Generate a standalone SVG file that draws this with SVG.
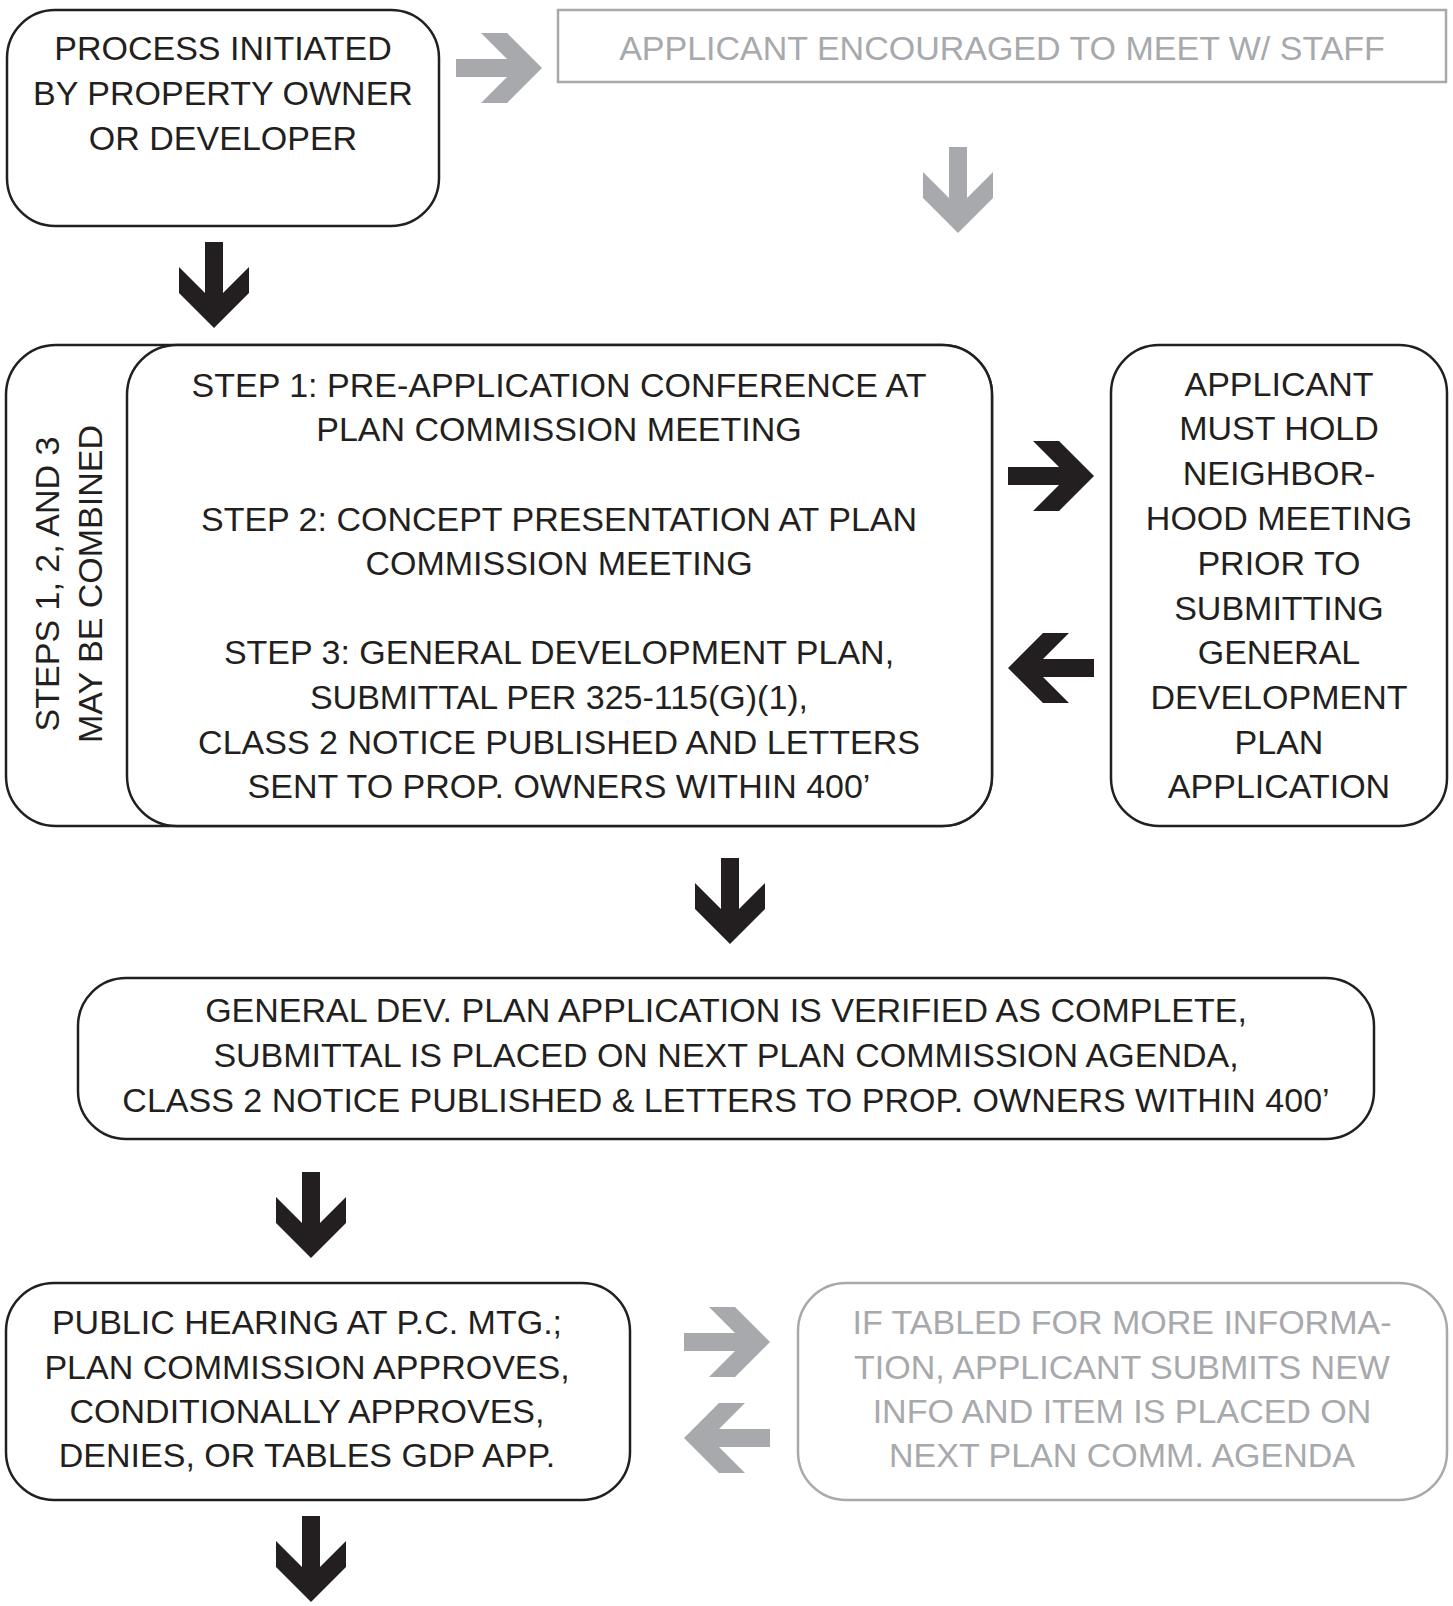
<svg xmlns="http://www.w3.org/2000/svg" xmlns:xlink="http://www.w3.org/1999/xlink" width="1453" height="1606" viewBox="0 0 1453 1606">
<style>
.box{fill:#fff;stroke:#231f20;stroke-width:2.5}
.gbox{fill:#fff;stroke:#a7a9ac;stroke-width:2.5}
.t{font-family:"Liberation Sans",Arial,sans-serif;font-size:34px;fill:#231f20;text-anchor:middle}
.g{fill:#a7a9ac}
.ab{fill:#231f20}
.ag{fill:#a7a9ac}
</style>
<defs>
<path id="down" d="M-9,0 H9 V51 L35,25 V51 L0,86 L-35,51 V25 L-9,51 Z"/>
<path id="right" d="M0,9 V-9 H51 L25,-35 H51 L86,0 L51,35 H25 L51,9 Z"/>
<path id="left" d="M86,9 V-9 H35 L61,-35 H35 L0,0 L35,35 H61 L35,9 Z"/>
</defs>
<rect width="1453" height="1606" fill="#fff"/>

<g id="connectors">
<use href="#right" class="ag" transform="translate(456,68)"/>
<use href="#down" class="ag" transform="translate(958,147)"/>
<use href="#down" class="ab" transform="translate(214,242)"/>
<use href="#right" class="ab" transform="translate(1008,476)"/>
<use href="#left" class="ab" transform="translate(1008,668)"/>
<use href="#down" class="ab" transform="translate(730,858)"/>
<use href="#down" class="ab" transform="translate(311,1172)"/>
<use href="#right" class="ag" transform="translate(684,1342)"/>
<use href="#left" class="ag" transform="translate(684,1438)"/>
<use href="#down" class="ab" transform="translate(311,1516)"/>
</g>

<g id="node-initiated">
<rect class="box" x="7" y="10" width="432" height="216" rx="48"/>
<text class="t" x="223" y="60">PROCESS INITIATED</text>
<text class="t" x="223" y="105">BY PROPERTY OWNER</text>
<text class="t" x="223" y="150">OR DEVELOPER</text>
</g>

<g id="node-meet-staff">
<rect class="gbox" x="558" y="10" width="888" height="72"/>
<text class="t g" x="1002" y="60">APPLICANT ENCOURAGED TO MEET W/ STAFF</text>
</g>

<g id="node-combined">
<rect class="box" x="6" y="345" width="986" height="481" rx="50"/>
<text class="t" transform="translate(59,584) rotate(-90)">STEPS 1, 2, AND 3</text>
<text class="t" transform="translate(102,584) rotate(-90)">MAY BE COMBINED</text>
</g>

<g id="node-steps">
<rect class="box" x="127" y="345" width="865" height="481" rx="50"/>
<text class="t" x="559" y="397">STEP 1: PRE-APPLICATION CONFERENCE AT</text>
<text class="t" x="559" y="441">PLAN COMMISSION MEETING</text>
<text class="t" x="559" y="531">STEP 2: CONCEPT PRESENTATION AT PLAN</text>
<text class="t" x="559" y="575">COMMISSION MEETING</text>
<text class="t" x="559" y="664">STEP 3: GENERAL DEVELOPMENT PLAN,</text>
<text class="t" x="559" y="709">SUBMITTAL PER 325-115(G)(1),</text>
<text class="t" x="559" y="754">CLASS 2 NOTICE PUBLISHED AND LETTERS</text>
<text class="t" x="559" y="798">SENT TO PROP. OWNERS WITHIN 400’</text>
</g>

<g id="node-neighborhood">
<rect class="box" x="1111" y="345" width="336" height="481" rx="48"/>
<text class="t" x="1279" y="396">APPLICANT</text>
<text class="t" x="1279" y="440">MUST HOLD</text>
<text class="t" x="1279" y="485">NEIGHBOR-</text>
<text class="t" x="1279" y="530">HOOD MEETING</text>
<text class="t" x="1279" y="575">PRIOR TO</text>
<text class="t" x="1279" y="620">SUBMITTING</text>
<text class="t" x="1279" y="664">GENERAL</text>
<text class="t" x="1279" y="709">DEVELOPMENT</text>
<text class="t" x="1279" y="754">PLAN</text>
<text class="t" x="1279" y="798">APPLICATION</text>
</g>

<g id="node-verified">
<rect class="box" x="78" y="978" width="1296" height="161" rx="48"/>
<text class="t" x="726" y="1022">GENERAL DEV. PLAN APPLICATION IS VERIFIED AS COMPLETE,</text>
<text class="t" x="726" y="1067">SUBMITTAL IS PLACED ON NEXT PLAN COMMISSION AGENDA,</text>
<text class="t" x="726" y="1112">CLASS 2 NOTICE PUBLISHED &amp; LETTERS TO PROP. OWNERS WITHIN 400’</text>
</g>

<g id="node-hearing">
<rect class="box" x="6" y="1283" width="624" height="217" rx="48"/>
<text class="t" x="307" y="1334">PUBLIC HEARING AT P.C. MTG.;</text>
<text class="t" x="307" y="1379">PLAN COMMISSION APPROVES,</text>
<text class="t" x="307" y="1423">CONDITIONALLY APPROVES,</text>
<text class="t" x="307" y="1467">DENIES, OR TABLES GDP APP.</text>
</g>

<g id="node-tabled">
<rect class="gbox" x="798" y="1283" width="649" height="217" rx="48"/>
<text class="t g" x="1122" y="1334">IF TABLED FOR MORE INFORMA-</text>
<text class="t g" x="1122" y="1379">TION, APPLICANT SUBMITS NEW</text>
<text class="t g" x="1122" y="1423">INFO AND ITEM IS PLACED ON</text>
<text class="t g" x="1122" y="1467">NEXT PLAN COMM. AGENDA</text>
</g>
</svg>
